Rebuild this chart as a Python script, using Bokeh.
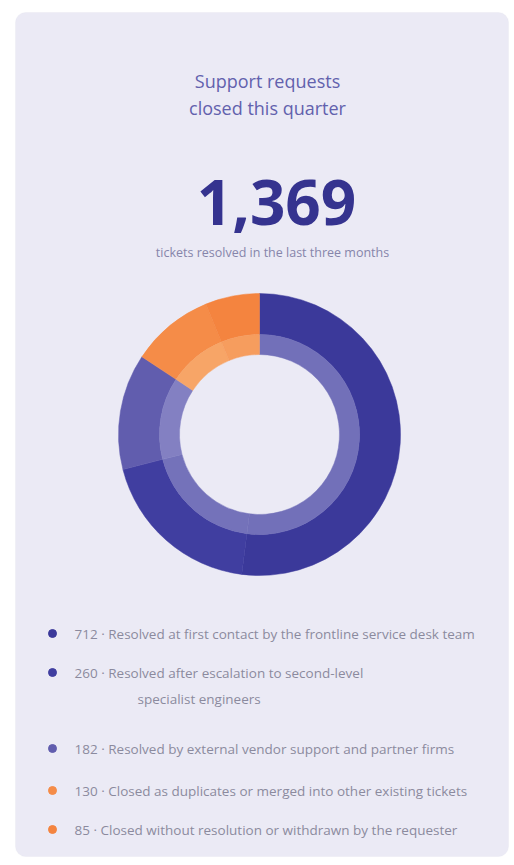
from bokeh.plotting import figure
from bokeh.models import ColumnDataSource, BoxAnnotation, Range1d
from bokeh.core.properties import value
from bokeh.embed import file_html
from bokeh.resources import INLINE
import math

# ---- data ----
title_lines = ["Support requests", "closed this quarter"]
total_label = "1,369"
subtitle = "tickets resolved in the last three months"
categories = [
    "Resolved at first contact by the frontline service desk team",
    "Resolved after escalation to second-level",
    "Resolved by external vendor support and partner firms",
    "Closed as duplicates or merged into other existing tickets",
    "Closed without resolution or withdrawn by the requester",
]
category_wrap = ["", "specialist engineers", "", "", ""]
counts = [712, 260, 182, 130, 85]
colors = ["#3b399a", "#403ea0", "#615dae", "#f58c48", "#f4843f"]
inner_colors = ["#7270b9", "#7472ba", "#8380c2", "#f7a567", "#f69d5e"]

W, H = 510, 860
p = figure(width=W, height=H, output_backend="svg", toolbar_location=None,
           x_range=Range1d(0, W), y_range=Range1d(0, H), min_border=0)
p.axis.visible = False
p.grid.visible = False
p.outline_line_color = None
p.background_fill_color = "white"
p.border_fill_color = "white"


def Y(y_img):
    return H - y_img


p.add_layout(BoxAnnotation(left=15, right=508, bottom=Y(856), top=Y(12),
                           fill_color="#ebeaf5", fill_alpha=1.0,
                           line_color="#e4e3ef", line_width=1, border_radius=10,
                           level="underlay"))

font = value("Open Sans")

# title
p.text(x=[267] * len(title_lines), y=[Y(80), Y(107)],
       text=title_lines, text_font=font, text_font_size="18px",
       text_color="#6261ad", text_align="center", text_baseline="middle")

# big number
p.text(x=[276], y=[Y(202)], text=[total_label], text_font=font,
       text_font_size="62px", text_font_style="bold", text_color="#35338f",
       text_align="center", text_baseline="middle")
p.text(x=[272], y=[Y(252)], text=[subtitle], text_font=font,
       text_font_size="12.5px", text_color="#8685aa",
       text_align="center", text_baseline="middle")

# donut
total = sum(counts)
starts, ends = [], []
acc = 0.0
for c in counts:
    starts.append(math.pi / 2 - 2 * math.pi * acc / total)
    acc += c
    ends.append(math.pi / 2 - 2 * math.pi * acc / total)
cx, cy = 259, Y(434)
src = ColumnDataSource(dict(start=starts, end=ends, color=colors, inner=inner_colors,
                            x=[cx] * len(counts), y=[cy] * len(counts)))
p.annular_wedge(x="x", y="y", inner_radius=100, outer_radius=141,
                start_angle="start", end_angle="end", direction="clock",
                fill_color="color", line_color="color", line_width=0.5, source=src)
p.annular_wedge(x="x", y="y", inner_radius=80, outer_radius=100,
                start_angle="start", end_angle="end", direction="clock",
                fill_color="inner", line_color="inner", line_width=0.5, source=src)

# legend
leg_y = [Y(633), Y(672), Y(748), Y(790), Y(829)]
wrap_dy = 26
p.scatter(x=[52] * len(counts), y=leg_y, size=8, color=colors, marker="circle")
p.text(x=[74] * len(counts), y=leg_y, text=[f"{c} · {t}" for c, t in zip(counts, categories)],
       text_font=font, text_font_size="13.5px", text_color="#8b8a9e",
       text_baseline="middle")
wx, wy, wt = [], [], []
for yy, t in zip(leg_y, category_wrap):
    if t:
        wx.append(137); wy.append(yy - wrap_dy); wt.append(t)
p.text(x=wx, y=wy, text=wt, text_font=font, text_font_size="13.5px",
       text_color="#8b8a9e", text_baseline="middle")

open("out.html", "w").write(file_html(p, INLINE))
